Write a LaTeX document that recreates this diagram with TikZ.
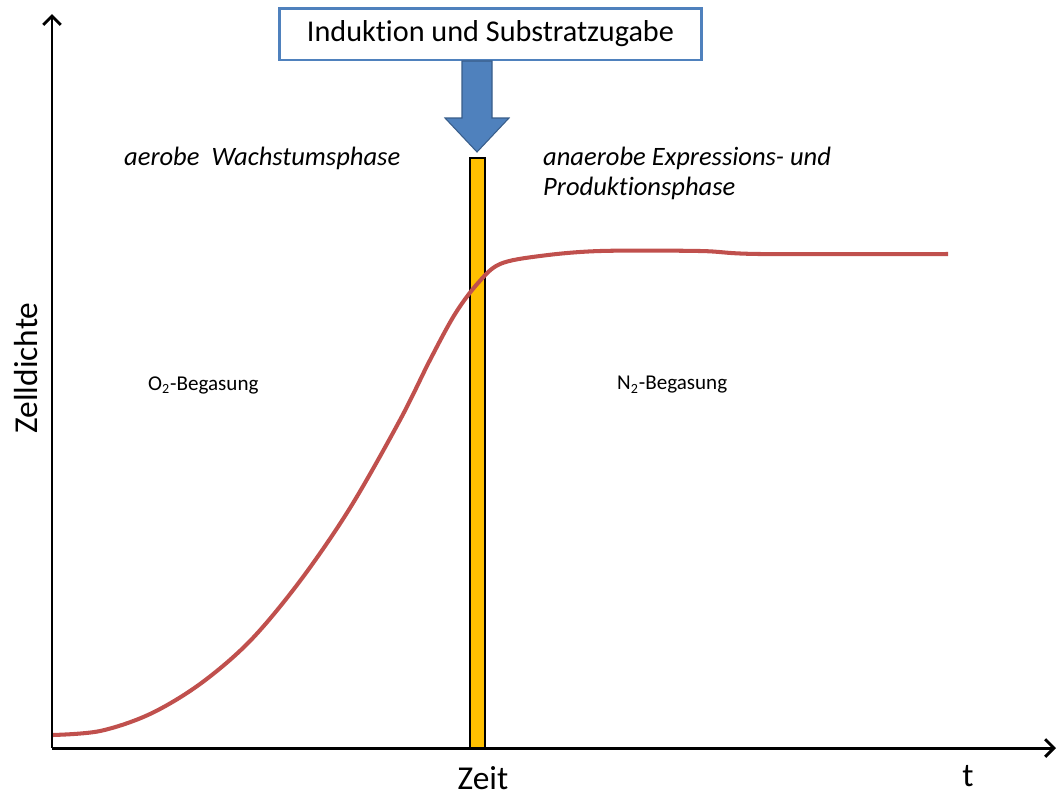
\documentclass[tikz,border=0pt]{standalone}
\usepackage{fontspec}
\setmainfont[RawFeature={-liga;-clig;-calt;-dlig}]{Carlito}
\usepackage{tikz}
\usetikzlibrary{arrows.meta}
\definecolor{boxblue}{HTML}{4F81BD}
\definecolor{arrowedge}{HTML}{385D8A}
\definecolor{curvered}{HTML}{C0504D}
\definecolor{baryellow}{HTML}{FFC000}

\begin{document}
\begin{tikzpicture}[x=0.02cm, y=-0.02cm,
  axis/.style={line width=1.7pt, -{Straight Barb[length=5pt, width=10pt]}},
  event/.style={draw=boxblue, line width=1.7pt, fill=white, minimum width=8.46cm, minimum height=1.04cm, font=\fontsize{17.2}{20}\selectfont},
  phase/.style={align=left, anchor=west, font=\fontsize{15.1}{17}\selectfont\itshape},
  gas/.style={anchor=west, font=\fontsize{12}{14}\selectfont},
  label/.style={inner sep=1pt, font=\fontsize{19}{22}\selectfont},
  growth/.style={draw=curvered, line width=2.3pt},
]
\useasboundingbox (0,0) rectangle (1057,796);

\coordinate (origin) at (52,748);
\coordinate (ytip) at (52,14);
\coordinate (xtip) at (1056,748);

%\node[event] (induction) at (490,30) {Induktion und Substratzugabe};
\node[event] (induction) at (490.5,34) {Induktion und Substratzugabe};

% block arrow below the box
\fill[boxblue, draw=arrowedge, line width=0.6pt]
  (462,61) -- (462,118) -- (445,118) -- (477,152) -- (509,118) -- (492,118) -- (492,61) -- cycle;

% induction time marker
\draw[fill=baryellow, line width=1.5pt] (470,158) rectangle (485,748);

% growth curve
\draw[growth] plot[smooth, tension=0.55] coordinates {
  (52,735) (100,731) (150,714) (200,684) (250,641) (300,581) (350,508)
  (400,420) (430,360) (455,314) (478,283) (500,264) (540,256) (600,251)
  (700,251) (760,254) (948,254)};

\draw[axis] (origin) -- (ytip);
\draw[axis] (52,748) -- (xtip);

\node[phase] (aerob) at (118,158) {aerobe\ \ Wachstumsphase};
\node[phase] (anaerob) at (537,173) {anaerobe Expressions- und\\Produktionsphase};
\node[gas] (otwo) at (142,385) {O\textsubscript{2}-Begasung};
\node[gas] (ntwo) at (611,385) {N\textsubscript{2}-Begasung};

\node[label, rotate=90] (ylabel) at (26,368) {Zelldichte};
\node[label] (xlabel) at (483,778) {Zeit};
\node[label] (tlabel) at (968,776) {t};
\end{tikzpicture}
\end{document}
